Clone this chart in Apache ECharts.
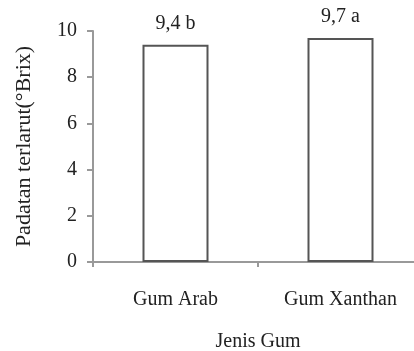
<!DOCTYPE html>
<html>
<head>
<meta charset="utf-8">
<script src="https://cdn.jsdelivr.net/npm/echarts@6/dist/echarts.min.js"></script>
<style>
html,body{margin:0;padding:0;background:#fff;}
#chart{width:414px;height:351px;}
</style>
</head>
<body>
<div id="chart"></div>
<script>
// data
var categories = ['Gum Arab', 'Gum Xanthan'];
var values = [9.4, 9.7];
var letters = ['b', 'a'];
var yTicks = [0, 2, 4, 6, 8, 10];

var fontFam = '"Liberation Serif", "DejaVu Serif", serif';
var myChart = echarts.init(document.getElementById('chart'));

myChart.setOption({
    animation: false,
    grid: {
        left: 93,
        top: 31,
        width: 330,
        height: 231,
        outerBoundsMode: 'none'
    },
    xAxis: {
        type: 'category',
        data: categories,
        name: 'Jenis Gum',
        nameLocation: 'middle',
        nameGap: 70,
        nameTextStyle: { fontFamily: fontFam, fontSize: 20, color: '#222' },
        axisLine: { lineStyle: { color: '#999', width: 2 } },
        axisTick: { show: true, length: 5, lineStyle: { color: '#999', width: 2 } },
        axisLabel: { margin: 28, fontFamily: fontFam, fontSize: 20, color: '#222' }
    },
    yAxis: {
        type: 'value',
        min: yTicks[0],
        max: yTicks[yTicks.length - 1],
        interval: 2,
        name: 'Padatan terlarut(°Brix)',
        nameLocation: 'middle',
        nameGap: 58,
        nameTextStyle: { fontFamily: fontFam, fontSize: 22, color: '#222' },
        axisLine: { show: true, lineStyle: { color: '#999', width: 2 } },
        axisTick: { show: true, length: 6, lineStyle: { color: '#999', width: 2 } },
        axisLabel: { margin: 16, fontFamily: fontFam, fontSize: 20, color: '#222' },
        splitLine: { show: false }
    },
    series: [{
        type: 'bar',
        data: values,
        barWidth: '40%',
        itemStyle: { color: '#fff', borderColor: '#555', borderWidth: 2 },
        label: {
            show: true,
            position: 'top',
            distance: 11,
            fontFamily: fontFam,
            fontSize: 20,
            color: '#222',
            formatter: function (p) {
                return String(p.value).replace('.', ',') + ' ' + letters[p.dataIndex];
            }
        }
    }]
});
</script>
</body>
</html>
